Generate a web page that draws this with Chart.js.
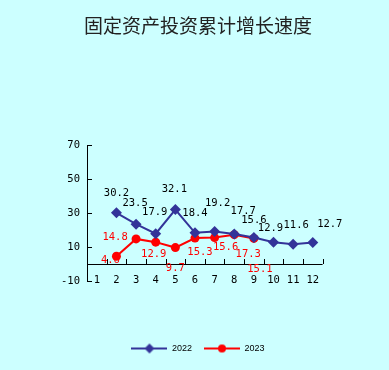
<!DOCTYPE html>
<html>
<head>
<meta charset="utf-8">
<script src="https://cdn.jsdelivr.net/npm/chart.js@4"></script>
<style>
  html, body { margin: 0; padding: 0; background: #ccffff; }
  #wrap { width: 389px; height: 370px; }
</style>
</head>
<body>
<div id="wrap"><canvas id="myChart" width="389" height="370"></canvas></div>
<script>
var months = ['1','2','3','4','5','6','7','8','9','10','11','12'];
var yTicks = [-10, 10, 30, 50, 70];
var growth2022 = [null, 30.2, 23.5, 17.9, 32.1, 18.4, 19.2, 17.7, 15.6, 12.9, 11.6, 12.7];
var growth2023 = [null, 4.6, 14.8, 12.9, 9.7, 15.3, 15.6, 17.3, 15.1, null, null, null];

// where each value label sits relative to its point (px)
var labelShift2022 = [null, [0,-20], [-1,-21], [-1,-21], [-1,-20], [0,-20], [3,-28], [9,-23], [0,-17], [-3,-14], [3,-19], [17,-18]];
var labelShift2023 = [null, [-6,4], [-21,-2], [-2,12], [0,21], [5,14], [11,10], [14,20], [6,31]];

var BLUE = '#333399';
var RED = '#ff0000';
var monoFont = "'DejaVu Sans Mono', monospace";

function legendIcon(color, style) {
  var c = document.createElement('canvas');
  c.width = 36; c.height = 12;
  var g = c.getContext('2d');
  g.strokeStyle = color; g.lineWidth = 2;
  g.beginPath(); g.moveTo(0, 6); g.lineTo(36, 6); g.stroke();
  g.fillStyle = color;
  g.beginPath();
  if (style == 'diamond') {
    g.moveTo(18, 1); g.lineTo(23, 6); g.lineTo(18, 11); g.lineTo(13, 6);
  } else {
    g.arc(18, 6, 4, 0, Math.PI * 2);
  }
  g.fill();
  return c;
}
var icons = [legendIcon(BLUE, 'diamond'), legendIcon(RED, 'circle')];

var background = {
  id: 'background',
  beforeDraw: function(chart) {
    var ctx = chart.ctx;
    ctx.save();
    ctx.fillStyle = '#ccffff';
    ctx.fillRect(0, 0, chart.width, chart.height);
    ctx.restore();
  }
};

// x axis line sits on zero, ticks point inwards
var axisMarks = {
  id: 'axisMarks',
  beforeDatasetsDraw: function(chart) {
    var ctx = chart.ctx, x = chart.scales.x, y = chart.scales.y;
    var area = chart.chartArea;
    var zero = y.getPixelForValue(0);
    var half = (x.getPixelForValue(1) - x.getPixelForValue(0)) / 2;
    ctx.save();
    ctx.strokeStyle = '#000';
    ctx.lineWidth = 1;
    ctx.beginPath();
    ctx.moveTo(area.left, Math.round(zero) + 0.5);
    ctx.lineTo(area.right, Math.round(zero) + 0.5);
    for (var i = 0; i < months.length; i++) {
      var px = Math.round(x.getPixelForValue(i) + half) + 0.5;
      ctx.moveTo(px, Math.round(zero));
      ctx.lineTo(px, Math.round(zero) - 5);
    }
    yTicks.forEach(function(v) {
      var py = Math.round(y.getPixelForValue(v)) + 0.5;
      ctx.moveTo(area.left, py);
      ctx.lineTo(area.left + 5, py);
    });
    ctx.stroke();
    ctx.restore();
  }
};

var valueLabels = {
  id: 'valueLabels',
  afterDatasetsDraw: function(chart) {
    var ctx = chart.ctx;
    var shifts = [labelShift2022, labelShift2023];
    var colors = ['#000', RED];
    ctx.save();
    ctx.font = '10.5px ' + monoFont;
    ctx.textAlign = 'center';
    ctx.textBaseline = 'middle';
    chart.data.datasets.forEach(function(ds, d) {
      var meta = chart.getDatasetMeta(d);
      ctx.fillStyle = colors[d];
      meta.data.forEach(function(pt, i) {
        var v = ds.data[i];
        if (v == null || !shifts[d][i]) return;
        ctx.fillText(v.toFixed(1), pt.x + shifts[d][i][0], pt.y + shifts[d][i][1]);
      });
    });
    ctx.restore();
  }
};

new Chart(document.getElementById('myChart'), {
  type: 'line',
  data: {
    labels: months,
    datasets: [
      {
        label: '2022',
        data: growth2022,
        borderColor: BLUE,
        backgroundColor: BLUE,
        borderWidth: 2,
        pointStyle: 'rectRot',
        pointRadius: 5.5,
        pointBorderWidth: 0,
        tension: 0
      },
      {
        label: '2023',
        data: growth2023,
        borderColor: RED,
        backgroundColor: RED,
        borderWidth: 2,
        pointStyle: 'circle',
        pointRadius: 4.5,
        pointBorderWidth: 0,
        tension: 0
      }
    ]
  },
  options: {
    responsive: false,
    animation: false,
    layout: { padding: { left: 7, right: 0, top: 0, bottom: 7 } },
    plugins: {
      tooltip: { enabled: false },
      title: {
        display: true,
        text: '固定资产投资累计增长速度',
        color: '#222',
        font: { family: "'Noto Sans CJK SC'", size: 19, weight: 'normal' },
        padding: { top: 14, bottom: 108.5 }
      },
      legend: {
        position: 'bottom',
        labels: {
          usePointStyle: true,
          pointStyleWidth: 36,
          padding: 12,
          color: '#000',
          font: { family: 'Arial, Liberation Sans', size: 9 },
          generateLabels: function(chart) {
            return chart.data.datasets.map(function(ds, i) {
              return { text: ds.label, pointStyle: icons[i], datasetIndex: i, fontColor: '#000', lineWidth: 0, strokeStyle: 'transparent', fillStyle: 'transparent' };
            });
          }
        }
      }
    },
    scales: {
      x: {
        offset: true,
        grid: { display: false, drawTicks: false },
        border: { display: false },
        ticks: { color: '#000', mirror: true, padding: -6, font: { family: monoFont, size: 10.5 }, maxRotation: 0, autoSkip: false },
        afterFit: function(s) { s.height = 51; }
      },
      y: {
        min: -10,
        max: 70,
        grid: { display: false, drawTicks: false },
        border: { display: true, color: '#000', width: 1 },
        ticks: { color: '#000', padding: 7, font: { family: monoFont, size: 10.5 } },
        afterBuildTicks: function(s) { s.ticks = yTicks.map(function(v) { return { value: v }; }); },
        afterFit: function(s) { s.width = 80; }
      },
      spare: {
        position: 'right',
        display: true,
        grid: { display: false, drawTicks: false },
        border: { display: false },
        ticks: { display: false },
        afterFit: function(s) { s.width = 66.4; }
      }
    }
  },
  plugins: [background, axisMarks, valueLabels]
});
</script>
</body>
</html>
